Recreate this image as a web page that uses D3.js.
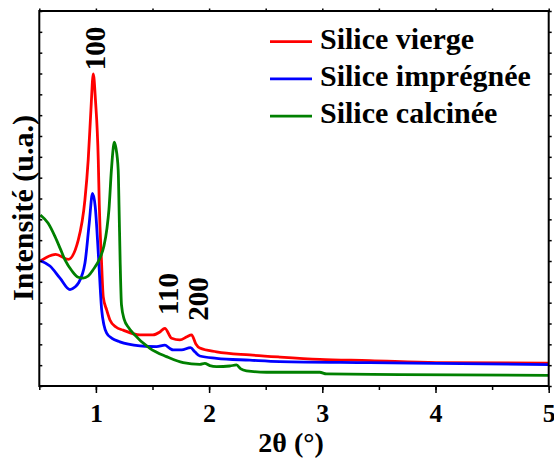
<!DOCTYPE html>
<html><head><meta charset="utf-8">
<script src="https://cdn.jsdelivr.net/npm/d3@7"></script>
<style>body{margin:0;background:#fff}svg{display:block}</style>
</head><body>
<svg id="c" width="554" height="459"></svg>
<script>
const seriesNames = ["Silice vierge", "Silice imprégnée", "Silice calcinée"];
const seriesColors = ["#ff0000", "#0000ff", "#008000"];
const xTicks = [1, 2, 3, 4, 5];
const peakLabels = ["100", "110", "200"];

// [2θ, intensity (a.u.)]
const vierge = [[0.51,600],[0.645,632],[0.756,608],[0.844,700],[0.903,893],[0.932,1085],[0.956,1325],[0.977,1498],[0.996,1373],[1.021,1085],[1.030,869],[1.049,605],[1.065,428],[1.095,365],[1.124,317],[1.177,283],[1.241,268],[1.389,245],[1.504,245],[1.565,259],[1.609,277],[1.669,229],[1.742,221],[1.804,236],[1.845,245],[1.883,202],[1.918,182],[2.066,164],[2.36,149],[2.624,139],[2.977,128],[3.419,122],[4.007,112],[5.0,110]];
const impregnee = [[0.51,601],[0.594,576],[0.683,518],[0.771,463],[0.815,475],[0.844,493],[0.903,589],[0.941,781],[0.970,924],[0.994,861],[1.023,621],[1.051,365],[1.071,293],[1.095,254],[1.142,229],[1.212,212],[1.389,193],[1.536,189],[1.609,196],[1.654,180],[1.683,173],[1.757,173],[1.836,184],[1.874,164],[1.918,144],[2.066,133],[2.36,124],[2.624,117],[3.419,112],[5.0,103]];
const calcinee = [[0.51,821],[0.577,782],[0.639,717],[0.683,662],[0.727,605],[0.789,552],[0.844,522],[0.886,518],[0.932,528],[0.974,557],[1.036,614],[1.071,672],[1.098,758],[1.115,845],[1.137,1037],[1.153,1142],[1.162,1171],[1.177,1142],[1.197,1037],[1.205,845],[1.214,605],[1.226,389],[1.250,320],[1.290,280],[1.330,253],[1.477,181],[1.624,141],[1.771,112],[1.918,104],[1.962,109],[2.006,98],[2.066,93],[2.183,96],[2.242,101],[2.280,82],[2.330,73],[2.507,66],[2.977,66],[3.037,58],[3.684,55],[5.0,51]];
const seriesData = [vierge, impregnee, calcinee];

const svg = d3.select("#c");
const m = {l: 39.3, r: 548.7, t: 11, b: 386};
const x = d3.scaleLinear().domain([0.5, 5]).range([m.l, m.r]);
const y = d3.scaleLinear().domain([0, 1800]).range([m.b, m.t]);
const font = "'Liberation Serif','Times New Roman',serif";

// curves
const line = d3.line().x(d => x(d[0])).y(d => y(d[1])).curve(d3.curveMonotoneX);
svg.append("clipPath").attr("id","pc").append("rect")
  .attr("x", m.l).attr("y", m.t).attr("width", m.r-m.l).attr("height", m.b-m.t);
seriesData.forEach((s, i) => {
  svg.append("path").datum(s).attr("d", line).attr("fill","none")
    .attr("stroke", seriesColors[i]).attr("stroke-width", 2.8)
    .attr("stroke-linejoin","round").attr("clip-path","url(#pc)");
});

// axes
const minor = d3.range(0.5, 5.01, 0.5);
const yt = d3.range(0, 1801, 100);
const axStyle = g => { g.select(".domain").remove(); g.selectAll("line").attr("stroke","#000").attr("stroke-width",1.5); };
svg.append("g").attr("transform",`translate(0,${m.b})`)
  .call(d3.axisBottom(x).tickValues(minor).tickSize(4).tickFormat("")).call(axStyle);
const bx = svg.append("g").attr("transform",`translate(0,${m.b})`)
  .call(d3.axisBottom(x).tickValues(xTicks).tickSize(7).tickPadding(11).tickFormat(d3.format("d"))).call(axStyle);
bx.selectAll("text").attr("font-family", font).attr("font-weight","bold").attr("font-size", 26).attr("fill","#000");
svg.append("g").attr("transform",`translate(0,${m.t})`)
  .call(d3.axisTop(x).tickValues(minor).tickSize(2.5).tickFormat("")).call(axStyle);
svg.append("g").attr("transform",`translate(${m.l},0)`)
  .call(d3.axisRight(y).tickValues(yt).tickSize(3).tickFormat("")).call(axStyle);
svg.append("g").attr("transform",`translate(${m.r},0)`)
  .call(d3.axisRight(y).tickValues(yt).tickSize(3).tickFormat("")).call(axStyle);
svg.append("rect").attr("x", m.l).attr("y", m.t).attr("width", m.r-m.l).attr("height", m.b-m.t)
  .attr("fill","none").attr("stroke","#000").attr("stroke-width",2);

// titles
svg.append("text").attr("x", 291).attr("y", 452).attr("text-anchor","middle")
  .attr("font-family", font).attr("font-weight","bold").attr("font-size", 28).text("2θ (°)");
svg.append("text").attr("transform","translate(33,208) rotate(-90)").attr("text-anchor","middle")
  .attr("font-family", font).attr("font-weight","bold").attr("font-size", 30).text("Intensité (u.a.)");

// peak labels
const peakPos = [[0.977, 1498], [1.609, 277], [1.845, 245]];
const peakOff = [[12, 48.5], [13, 294], [16, 299]];
peakLabels.forEach((t, i) => {
  const px = x(peakPos[i][0]) + peakOff[i][0];
  svg.append("text").attr("transform", `translate(${px},${peakOff[i][1]}) rotate(-90)`)
    .attr("text-anchor","middle").attr("font-family", font).attr("font-weight","bold")
    .attr("font-size", 29).text(t);
});

// legend
const lg = svg.append("g");
seriesNames.forEach((n, i) => {
  const ly = 41.7 + i * 37.2;
  lg.append("line").attr("x1", 270).attr("x2", 312).attr("y1", ly).attr("y2", ly)
    .attr("stroke", seriesColors[i]).attr("stroke-width", 2.8);
  lg.append("text").attr("x", 320).attr("y", ly + 7).attr("font-family", font)
    .attr("font-weight","bold").attr("font-size", 30).text(n);
});
</script>
</body></html>
